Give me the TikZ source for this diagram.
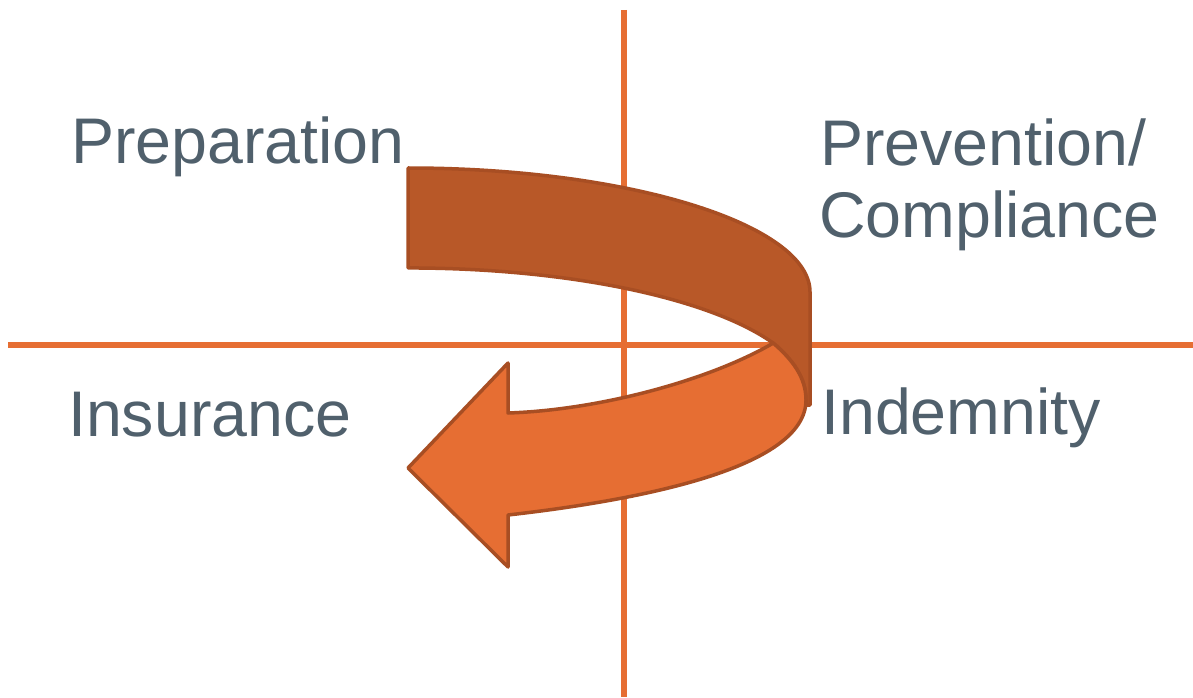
\documentclass[tikz,border=0pt]{standalone}
\usepackage{fontspec}
\setmainfont{Liberation Sans}
\definecolor{axisor}{RGB}{230,110,51}
\definecolor{darkband}{RGB}{184,88,40}
\definecolor{lightband}{RGB}{230,110,51}
\definecolor{bandline}{RGB}{168,78,35}
\definecolor{labelgray}{RGB}{80,96,108}
\begin{document}
\begin{tikzpicture}[x=1pt,y=1pt,
  axisline/.style={draw=axisor,line width=6pt},
  bandshape/.style={draw=bandline,line width=3.5pt,line join=round},
  quadlabel/.style={anchor=base west,inner sep=0pt,text=labelgray,font=\fontsize{64.5}{72}\selectfont}]
\useasboundingbox (0,0) rectangle (1193,697);
% axes
\coordinate (vtop) at (624,687);
\coordinate (vbot) at (624,0);
\coordinate (hleft) at (8,352);
\coordinate (hright) at (1193,352);
\draw[axisline] (vtop) -- (vbot);
\draw[axisline] (hleft) -- (hright);
% key points of the ribbon arrow
\coordinate (C) at (773.2,353.9);
\coordinate (R) at (806,297);
% dark (upper) band
\path[bandshape,fill=darkband]
  (408,529) .. controls (630,529) and (810,472) .. (810,405)
  -- (810,292) -- (806,292) -- (R)
  .. controls (806,319) and (793,337) .. (C)
  arc[start angle=24.1,end angle=90,x radius=400,y radius=127]
  -- cycle;
% light (lower) band with arrow head
\path[bandshape,fill=lightband]
  (508,284) -- (508,334) -- (408,229) -- (508,130) -- (508,182)
  .. controls (640,197) and (806,229) .. (R)
  .. controls (806,319) and (793,337) .. (C)
  .. controls (710,317) and (600,287) .. (508,284) -- cycle;
% labels
\node[quadlabel] (prep) at (71,533) {Preparation};
\node[quadlabel] (prev) at (820,531) {Prevention/};
\node[quadlabel] (comp) at (819,459) {Compliance};
\node[quadlabel] (ins) at (68,261) {Insurance};
\node[quadlabel] (ind) at (821,263) {Indemnity};
\end{tikzpicture}
\end{document}
